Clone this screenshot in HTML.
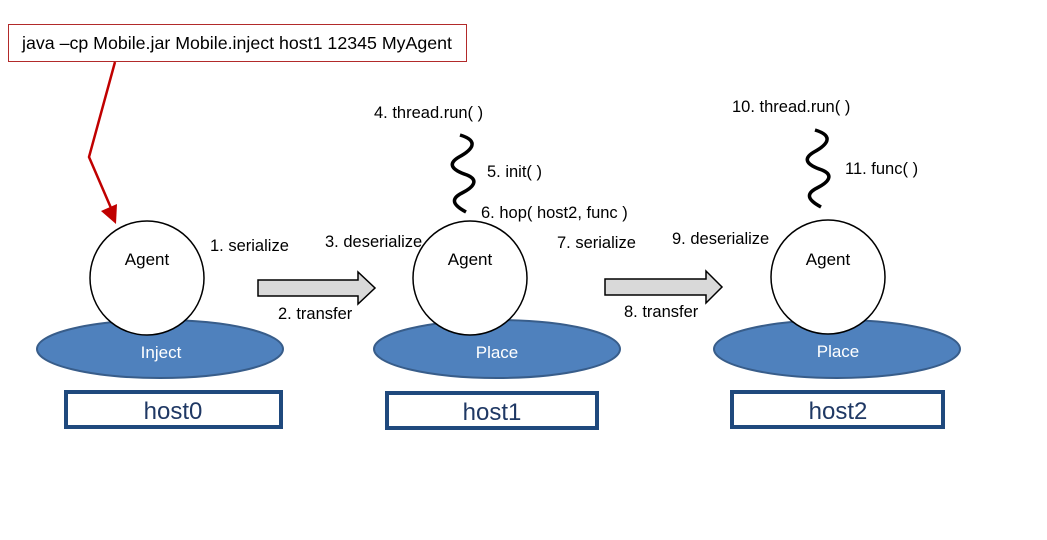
<!DOCTYPE html>
<html><head><style>
html,body{margin:0;padding:0;background:#fff;}
svg{display:block;}
text{font-family:"Liberation Sans",sans-serif;font-size:16.5px;fill:#000;}
.h{font-size:24px;fill:#1f3864;text-anchor:middle;}
.e{fill:#fff;font-size:17px;text-anchor:middle;}
.a{text-anchor:middle;font-size:17px;}
</style></head><body>
<svg width="1047" height="540" viewBox="0 0 1047 540" xmlns="http://www.w3.org/2000/svg">
<rect x="0" y="0" width="1047" height="540" fill="#fff"/>
<rect x="8.5" y="24.5" width="458" height="37" fill="#fff" stroke="#b22a2a" stroke-width="1"/>
<text x="22" y="49" style="font-size:17.5px" textLength="430" lengthAdjust="spacingAndGlyphs">java –cp Mobile.jar Mobile.inject host1 12345 MyAgent</text>
<polyline points="115,62 89,157 111,208" fill="none" stroke="#c00000" stroke-width="2.5"/>
<polygon points="101,211 117,204 116,224" fill="#c00000"/>
<ellipse cx="160" cy="349" rx="123" ry="29" fill="#4f81bd" stroke="#385d8a" stroke-width="2"/>
<ellipse cx="497" cy="349" rx="123" ry="29" fill="#4f81bd" stroke="#385d8a" stroke-width="2"/>
<ellipse cx="837" cy="349" rx="123" ry="29" fill="#4f81bd" stroke="#385d8a" stroke-width="2"/>
<circle cx="147" cy="278" r="57" fill="#fff" stroke="#000" stroke-width="1.5"/>
<circle cx="470" cy="278" r="57" fill="#fff" stroke="#000" stroke-width="1.5"/>
<circle cx="828" cy="277" r="57" fill="#fff" stroke="#000" stroke-width="1.5"/>
<text class="a" x="147" y="265">Agent</text>
<text class="a" x="470" y="265">Agent</text>
<text class="a" x="828" y="265">Agent</text>
<text class="e" x="161" y="358">Inject</text>
<text class="e" x="497" y="358">Place</text>
<text class="e" x="838" y="357">Place</text>
<rect x="66" y="392" width="215" height="35" fill="#fff" stroke="#1f497d" stroke-width="4"/>
<rect x="387" y="393" width="210" height="35" fill="#fff" stroke="#1f497d" stroke-width="4"/>
<rect x="732" y="392" width="211" height="35" fill="#fff" stroke="#1f497d" stroke-width="4"/>
<text class="h" x="173" y="419">host0</text>
<text class="h" x="492" y="420">host1</text>
<text class="h" x="838" y="419">host2</text>
<polygon points="258,280 358,280 358,272 375,288 358,304 358,296 258,296" fill="#d9d9d9" stroke="#000" stroke-width="1.5"/>
<polygon points="605,279 706,279 706,271 722,287 706,303 706,295 605,295" fill="#d9d9d9" stroke="#000" stroke-width="1.5"/>
<path d="M460,135 C480,141 472,150 459,157 C447,164 452,170 467,175 C479,180 474,187 462,193 C450,199 453,205 466,212" fill="none" stroke="#000" stroke-width="3.5"/>
<path d="M815,130 C835,136 827,145 814,152 C802,159 807,165 822,170 C834,175 829,182 817,188 C805,194 808,200 821,207" fill="none" stroke="#000" stroke-width="3.5"/>
<text x="210" y="251">1. serialize</text>
<text x="278" y="319">2. transfer</text>
<text x="325" y="247">3. deserialize</text>
<text x="374" y="118">4. thread.run( )</text>
<text x="487" y="177">5. init( )</text>
<text x="481" y="218">6. hop( host2, func )</text>
<text x="557" y="248">7. serialize</text>
<text x="624" y="317">8. transfer</text>
<text x="672" y="244">9. deserialize</text>
<text x="732" y="112">10. thread.run( )</text>
<text x="845" y="174">11. func( )</text>
</svg>
</body></html>
